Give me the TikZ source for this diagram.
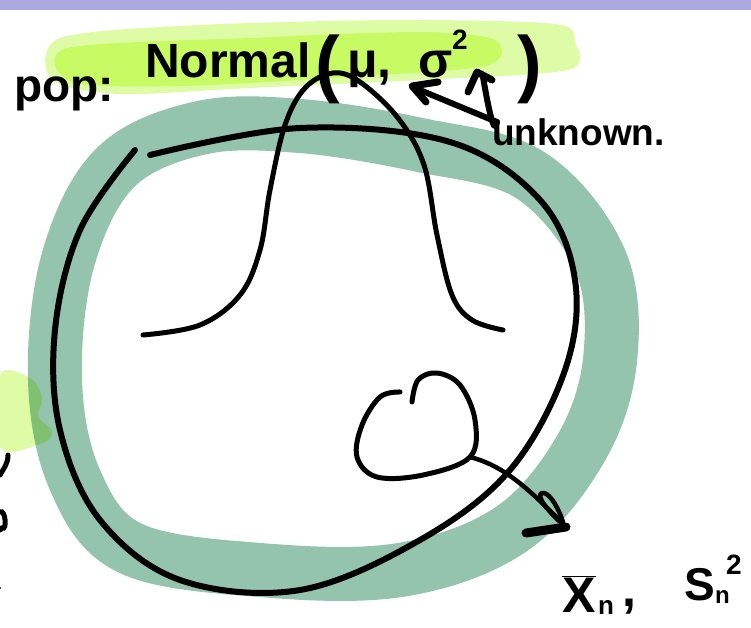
\documentclass[tikz,border=0pt]{standalone}
\usepackage{fontspec}
\setmainfont{Liberation Sans}
\begin{document}
\begin{tikzpicture}[x=1pt,y=-1pt,
  hand/.style={font=\bfseries\fontsize{#1}{#1}\selectfont,inner sep=0pt,anchor=base west}]
\definecolor{band}{RGB}{170,170,224}
\definecolor{lightlime}{RGB}{222,252,165}
\definecolor{lime}{RGB}{200,250,100}
\definecolor{teal}{RGB}{148,196,174}
\useasboundingbox (0,0) rectangle (751,628);
\fill[white] (0,0) rectangle (751,628);
\fill[band] (0,0) rectangle (751,10);
% teal ring
\draw[teal,line width=54pt,line join=round] plot[smooth cycle,tension=0.6] coordinates
 {(300,126) (420,145) (530,175) (600,260) (610,360) (580,450) (510,530) (400,570) (260,570) (130,548) (75,480) (55,380) (68,260) (115,168) (200,128)};
% lime highlights
\fill[lightlime] plot[smooth cycle,tension=0.5] coordinates
 {(60,38) (200,25) (400,20) (555,24) (575,42) (568,70) (420,80) (250,88) (120,94) (52,80)};
\fill[lime] plot[smooth cycle,tension=0.5] coordinates
 {(68,48) (250,38) (420,32) (495,40) (485,66) (330,78) (180,86) (72,82)};
\begin{scope}[blend mode=multiply]
\fill[lightlime] plot[smooth cycle,tension=0.6] coordinates
 {(0,375) (30,378) (42,398) (38,416) (52,432) (40,444) (0,447)};
\end{scope}
% left margin marks
\draw[line width=5pt,line cap=round] (8,455) to[out=-90,in=60] (0,475);
\draw[line width=5pt,line cap=round] (0,512) to[out=30,in=-30] (2,528) to (0,530);
\fill (0,588) circle (1.2pt);
% big black circle
\draw[line width=6pt,line cap=round,line join=round] plot[smooth,tension=0.6] coordinates
 {(150,155) (300,128) (450,142) (540,200) (575,280) (565,370) (510,470) (420,540) (300,590) (180,580) (100,520) (60,430) (55,330) (80,230) (135,150)};
% bell curve
\draw[line width=5pt,line cap=round,line join=round] plot[smooth,tension=0.6] coordinates
 {(143,335) (200,325) (240,295) (260,250) (270,190) (285,125) (305,88) (333,73) (360,82) (398,118) (424,165) (437,235) (452,295) (472,320) (503,330)};
% blob
\draw[line width=5pt,line cap=round,line join=round] plot[smooth,tension=0.6] coordinates
 {(400,392) (380,397) (362,425) (357,457) (377,477) (423,475) (470,457) (475,420) (460,385) (437,373) (418,380) (412,402)};
% arrow from blob
\coordinate (tip) at (566,527);
\draw[line width=4.5pt,line cap=round] (470,457) .. controls (505,466) and (530,490) .. (tip);
\draw[line width=4.5pt,line cap=round,line join=round] (tip) .. controls (548,512) and (535,495) .. (542,493) .. controls (550,491) and (560,512) .. (563,522);
\draw[line width=9pt,line cap=round] (526,533) -- (tip);
% labels
\node[hand=46] (pop) at (14,102) {pop:};
\node[hand=48] (normal) at (145,78) {Normal};
\node[hand=74] (lp) at (315,89) {(};
\node[hand=50] (mu) at (347,78) {μ,};
\node[hand=50] (sig) at (418,78) {σ};
\node[hand=28] (two) at (452,50) {2};
\node[hand=74] (rp) at (517,89) {)};
\node[hand=37] (unk) at (492,146) {unknown.};
% arrows from unknown
\coordinate (us) at (497,122);
\draw[line width=6pt,line cap=round] (us) -- (415,88);
\draw[line width=7pt,line cap=round,line join=round] (426,102) -- (412,86) -- (438,82);
\draw[line width=6pt,line cap=round] (us) to[out=-100,in=-80] (483,77);
\draw[line width=7pt,line cap=round,line join=round] (468,92) -- (477,72) -- (492,80);
% bottom right labels
\node[hand=50] (xbar) at (562,612) {$\overline{\hbox{\bfseries\fontsize{50}{50}\selectfont X}}$};
\node[hand=26] (xn) at (598,614) {n};
\node[hand=50] (comma) at (622,606) {,};
\node[hand=46] (S) at (684,600) {S};
\node[hand=24] (sn) at (715,603) {n};
\node[hand=28] (s2) at (726,574) {2};
\end{tikzpicture}
\end{document}
